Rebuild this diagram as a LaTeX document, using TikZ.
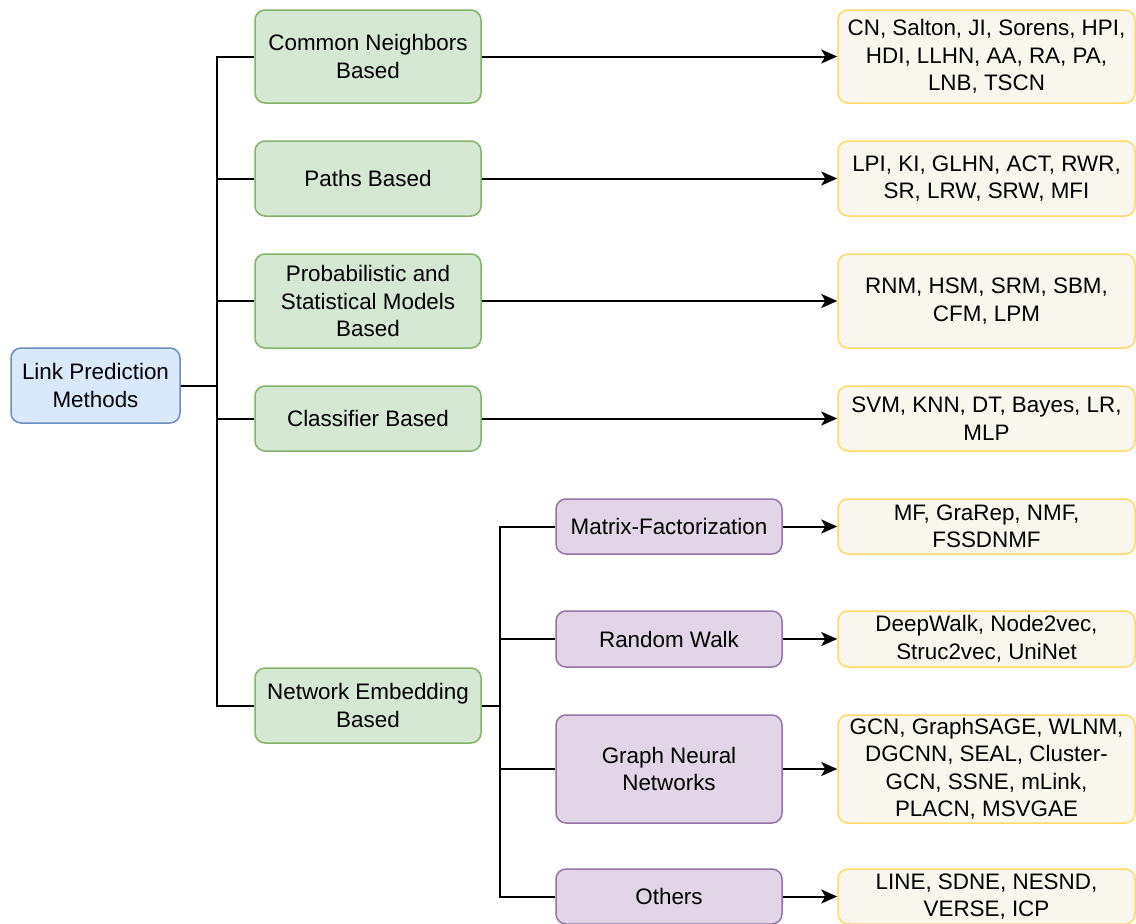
\documentclass[tikz,border=0pt]{standalone}
\usepackage{fontspec}
\setmainfont{Liberation Sans}
\usetikzlibrary{arrows.meta}

\definecolor{root-fill}{HTML}{DAE8FC}
\definecolor{root-line}{HTML}{6C8EBF}
\definecolor{group-fill}{HTML}{D5E8D4}
\definecolor{group-line}{HTML}{82B366}
\definecolor{embed-fill}{HTML}{E1D5E7}
\definecolor{embed-line}{HTML}{9673A6}
\definecolor{algo-fill}{HTML}{F9F7ED}
\definecolor{algo-line}{HTML}{FFD966}

\tikzstyle{box}=[rounded corners=10pt, line width=1.5pt, align=center, inner sep=0pt, font=\fontsize{22.4}{27.5}\selectfont]
\tikzstyle{root-box}=[box, fill={root-fill}, draw={root-line}, minimum width=169pt]
\tikzstyle{group-box}=[box, fill={group-fill}, draw={group-line}, minimum width=226pt]
\tikzstyle{embed-box}=[box, fill={embed-fill}, draw={embed-line}, minimum width=226pt]
\tikzstyle{algo-box}=[box, fill={algo-fill}, draw={algo-line}, minimum width=297pt]
\tikzstyle{link}=[line width=2pt]
\tikzstyle{arrow}=[line width=2pt, -{Stealth[length=16pt, width=14pt, inset=4pt]}]

\begin{document}
\begin{tikzpicture}[x=1pt, y=-1pt]
      \useasboundingbox (0,0) rectangle (1136,924);

      \node (root) at (95.5, 385.5) [root-box, minimum height=75pt] {Link Prediction\\Methods};

      \node (group-1) at (368,  56.5) [group-box, minimum height=93pt] {Common Neighbors\\Based};
      \node (group-2) at (368, 178.5) [group-box, minimum height=75pt] {Paths Based};
      \node (group-3) at (368, 301)   [group-box, minimum height=94pt] {Probabilistic and\\Statistical Models\\Based};
      \node (group-4) at (368, 418.5) [group-box, minimum height=65pt] {Classifier Based};
      \node (group-5) at (368, 705.5) [group-box, minimum height=75pt] {Network Embedding\\Based};

      \node (embed-1) at (669, 526.5) [embed-box, minimum height=55pt]  {Matrix-Factorization};
      \node (embed-2) at (669, 639)   [embed-box, minimum height=56pt]  {Random Walk};
      \node (embed-3) at (669, 769)   [embed-box, minimum height=108pt] {Graph Neural\\Networks};
      \node (embed-4) at (669, 896.5) [embed-box, minimum height=55pt]  {Others};

      \node (algo-1) at (986.5,  56.5) [algo-box, minimum height=93pt]  {CN, Salton, JI, Sorens, HPI,\\HDI, LLHN, AA, RA, PA,\\LNB, TSCN};
      \node (algo-2) at (986.5, 178.5) [algo-box, minimum height=75pt]  {LPI, KI, GLHN, ACT, RWR,\\SR, LRW, SRW, MFI};
      \node (algo-3) at (986.5, 301)   [algo-box, minimum height=94pt]  {RNM, HSM, SRM, SBM,\\CFM, LPM};
      \node (algo-4) at (986.5, 418.5) [algo-box, minimum height=65pt]  {SVM, KNN, DT, Bayes, LR,\\MLP};
      \node (algo-5) at (986.5, 526.5) [algo-box, minimum height=55pt]  {MF, GraRep, NMF,\\FSSDNMF};
      \node (algo-6) at (986.5, 639)   [algo-box, minimum height=56pt]  {DeepWalk, Node2vec,\\Struc2vec, UniNet};
      \node (algo-7) at (986.5, 769)   [algo-box, minimum height=108pt] {GCN, GraphSAGE, WLNM,\\DGCNN, SEAL, Cluster-\\GCN, SSNE, mLink,\\PLACN, MSVGAE};
      \node (algo-8) at (986.5, 896.5) [algo-box, minimum height=55pt]  {LINE, SDNE, NESND,\\VERSE, ICP};

      % tree lines
      \coordinate (trunk) at (217, 385.5);
      \coordinate (subtrunk) at (500, 705.5);
      \draw [link] (root) -- (trunk);
      \foreach \i in {1,...,5}
        \draw [link] (trunk) |- (group-\i);
      \draw [link] (group-5) -- (subtrunk);
      \foreach \i in {1,...,4}
        \draw [link] (subtrunk) |- (embed-\i);

      % arrows to the methods
      \foreach \i in {1,...,4}
        \draw [arrow] (group-\i) -- (algo-\i);
      \foreach \i [evaluate=\i as \j using int(\i+4)] in {1,...,4}
        \draw [arrow] (embed-\i) -- (algo-\j);
    \end{tikzpicture}
\end{document}
